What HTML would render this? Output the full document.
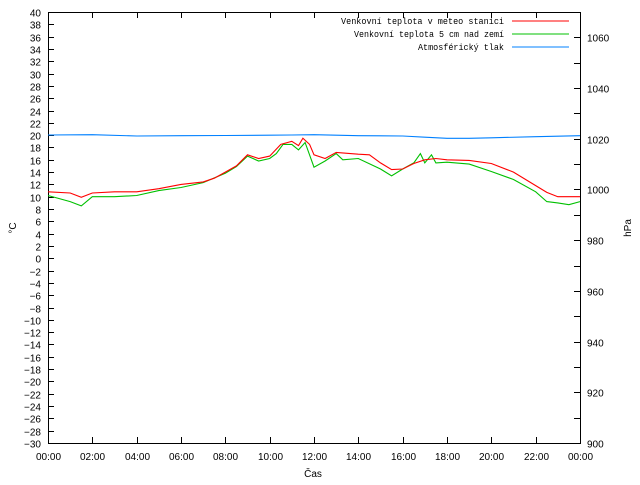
<!DOCTYPE html>
<html><head><meta charset="utf-8"><style>
body{margin:0;background:#fff}
text{font-family:"Liberation Sans",sans-serif;font-size:10px;fill:#000}
.mono{font-family:"Liberation Mono",monospace;font-size:9px}
</style></head><body>
<svg id="c" width="640" height="480" xmlns="http://www.w3.org/2000/svg">
<rect width="640" height="480" fill="#fff"/>
<g id="axes"></g>
<g id="series"></g>
<g>
<text class="mono" x="504" y="24" text-anchor="end" textLength="163" lengthAdjust="spacingAndGlyphs">Venkovní teplota v meteo stanici</text>
<line x1="512" y1="21" x2="569" y2="21" stroke="#ff0000"/>
<text class="mono" x="504" y="37" text-anchor="end" textLength="150" lengthAdjust="spacingAndGlyphs">Venkovní teplota 5 cm nad zemí</text>
<line x1="512" y1="34" x2="569" y2="34" stroke="#00c000"/>
<text class="mono" x="504" y="50" text-anchor="end" textLength="86" lengthAdjust="spacingAndGlyphs">Atmosférický tlak</text>
<line x1="512" y1="47" x2="569" y2="47" stroke="#0080ff"/>
</g>
<text x="313" y="477" text-anchor="middle">Čas</text>
<text x="0" y="0" text-anchor="middle" transform="translate(16,228) rotate(-90)">°C</text>
<text x="0" y="0" text-anchor="middle" transform="translate(631,228) rotate(-90)">hPa</text>
</svg>
<script>
const xTickLabels=["00:00","02:00","04:00","06:00","08:00","10:00","12:00","14:00","16:00","18:00","20:00","22:00","00:00"];
const redHours=[0,1,1.5,2,3,4,5,6,7,7.5,8,8.5,9,9.5,10,10.5,11,11.3,11.5,11.8,12,12.5,13,14,14.5,15,15.5,16,16.5,17,17.5,18,19,20,21,22,22.5,23,24];
const redTemp=[10.8,10.6,9.9,10.6,10.8,10.8,11.3,12,12.4,13,14,15,16.8,16.2,16.6,18.5,19,18.3,19.5,18.5,16.8,16.2,17.2,16.9,16.8,15.5,14.4,14.5,15.4,16,16.2,16,15.9,15.4,14,11.8,10.7,10,10];
const greenHours=[0,1,1.5,2,3,4,5,6,7,8,8.5,9,9.5,10,10.3,10.6,11,11.3,11.6,12,12.5,13,13.3,14,15,15.5,16,16.5,16.8,17,17.3,17.5,18,19,20,21,22,22.5,23,23.5,24];
const greenTemp=[10.2,9.2,8.5,10,10,10.2,11,11.5,12.3,13.8,14.9,16.6,15.8,16.2,17,18.5,18.5,17.6,18.8,14.8,15.8,17,16,16.2,14.5,13.4,14.5,15.5,17,15.5,16.8,15.5,15.6,15.3,14.1,12.8,10.8,9.2,9,8.7,9.2];
const presHours=[0,2,4,6,8,10,11,12,14,16,17,18,19,20,22,24];
const presVal=[1021.5,1021.6,1021.1,1021.2,1021.3,1021.4,1021.5,1021.6,1021.2,1021.1,1020.6,1020.2,1020.2,1020.4,1020.8,1021.2];
const L=48,R=580,T=12,B=443;
const xs=h=>L+h*(R-L)/24;
const yT=t=>B-(t+30)*(B-T)/70;
const yP=p=>B-(p-900)*(B-T)/170;
const NS="http://www.w3.org/2000/svg";
const ax=document.getElementById('axes'),se=document.getElementById('series');
function mk(tag,a,p){const e=document.createElementNS(NS,tag);for(const k in a)e.setAttribute(k,a[k]);p.appendChild(e);return e;}
const fr=mk('rect',{x:L+.5,y:T+.5,width:R-L,height:B-T,fill:'none',stroke:'#000'},ax);


for(let t=-30;t<=40;t+=2){const y=Math.round(yT(t))+.5;
mk('path',{d:`M${L} ${y}h6`,stroke:'#000'},ax);
const tx=mk('text',{x:41,y:y+4,'text-anchor':'end'},ax);tx.textContent=String(t).replace('-','\u2212');

}
for(let p=900;p<=1070;p+=10){const y=Math.round(yP(p))+.5;
mk('path',{d:`M${R} ${y}h-6`,stroke:'#000'},ax);
if(p%20==0&&p<=1060){const tx=mk('text',{x:587,y:y+4},ax);tx.textContent=p;

}}
xTickLabels.forEach((s,i)=>{const x=Math.round(xs(i*2))+.5;
mk('path',{d:`M${x} ${B}v-6M${x} ${T}v6`,stroke:'#000'},ax);
const tx=mk('text',{x:x,y:460,'text-anchor':'middle'},ax);tx.textContent=s;

});
function line(hs,vs,yf,c,n){const d=hs.map((h,i)=>(i?'L':'M')+xs(h).toFixed(1)+' '+yf(vs[i]).toFixed(1)).join('');
const p=mk('path',{d:d,fill:'none',stroke:c,'stroke-width':1.1},se);

}
line(presHours,presVal,yP,'#0080ff','pressure-line');
line(greenHours,greenTemp,yT,'#00c000','ground-temp-line');
line(redHours,redTemp,yT,'#ff0000','station-temp-line');
</script>
</body></html>
